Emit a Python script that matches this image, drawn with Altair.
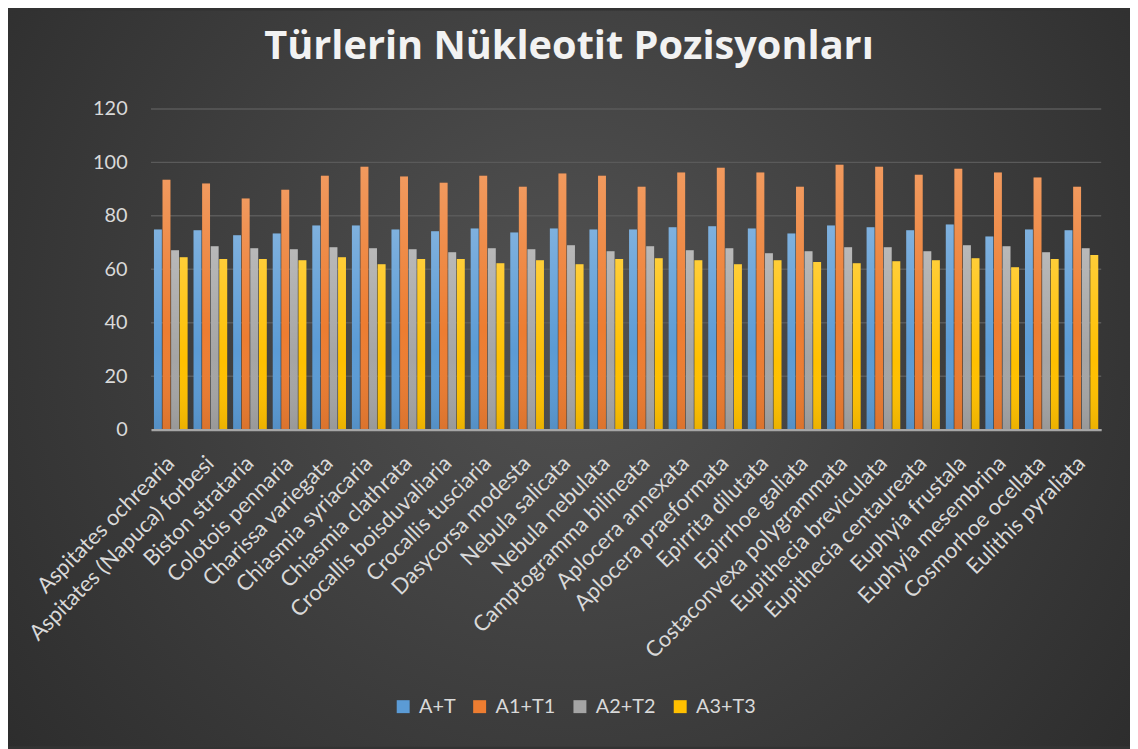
import altair as alt
import pandas as pd

categories = ["Aspitates ochrearia", "Aspitates (Napuca) forbesi", "Biston strataria",
              "Colotois pennaria", "Charissa variegata", "Chiasmia syriacaria",
              "Chiasmia clathrata", "Crocallis boisduvaliaria", "Crocallis tusciaria",
              "Dasycorsa modesta", "Nebula salicata", "Nebula nebulata",
              "Camptogramma bilineata", "Aplocera annexata", "Aplocera praeformata",
              "Epirrita dilutata", "Epirrhoe galiata", "Costaconvexa polygrammata",
              "Eupithecia breviculata", "Eupithecia centaureata", "Euphyia frustala",
              "Euphyia mesembrina", "Cosmorhoe ocellata", "Eulithis pyraliata"]

series = ["A+T", "A1+T1", "A2+T2", "A3+T3"]

at = [74.9, 74.6, 72.7, 73.4, 76.4, 76.4, 74.9, 74.2, 75.3, 73.8, 75.3, 74.9,
      74.9, 75.7, 76.1, 75.3, 73.4, 76.4, 75.7, 74.6, 76.8, 72.3, 74.9, 74.6]
a1t1 = [93.5, 92.1, 86.5, 89.8, 95.0, 98.4, 94.7, 92.4, 95.0, 90.9, 95.8, 95.0,
        90.9, 96.2, 98.0, 96.2, 90.9, 99.1, 98.4, 95.4, 97.6, 96.2, 94.3, 90.9]
a2t2 = [67.1, 68.6, 67.9, 67.5, 68.2, 67.9, 67.5, 66.4, 67.9, 67.5, 69.0, 66.7,
        68.6, 67.1, 67.9, 66.0, 66.7, 68.2, 68.2, 66.7, 69.0, 68.6, 66.4, 67.9]
a3t3 = [64.5, 63.8, 63.8, 63.4, 64.5, 61.9, 63.8, 63.8, 62.3, 63.4, 61.9, 63.8,
        64.1, 63.4, 61.9, 63.4, 62.7, 62.3, 63.0, 63.4, 64.1, 60.8, 63.8, 65.3]

y_ticks = [0, 20, 40, 60, 80, 100, 120]

colors = ["#5b9bd5", "#ed7d31", "#a5a5a5", "#ffc000"]

rows = []
for s, vals in zip(series, [at, a1t1, a2t2, a3t3]):
    for c, v in zip(categories, vals):
        rows.append({"tur": c, "seri": s, "deger": v})
df = pd.DataFrame(rows)

W, H = 957, 323
PL, PT, PR, PB = 144, 99, 29, 319

yscale = alt.Scale(domain=[0, 120], nice=False)

base = alt.Chart(df).encode(
    x=alt.X("tur:N", sort=categories,
            scale=alt.Scale(domain=categories, paddingInner=0.15, paddingOuter=0.075),
            axis=alt.Axis(title=None, labelAngle=-45, labelAlign="right", labelBaseline="middle",
                          labelPadding=30, tickSize=0, ticks=False,
                          domainColor="#a6a6a6", domainWidth=2.5,
                          labelColor="#d9d9d9", labelFont="Lato", labelFontSize=22,
                          labelLimit=500, grid=False, zindex=1)),
    xOffset=alt.XOffset("seri:N", scale=alt.Scale(domain=series, paddingInner=0.08)),
    y=alt.Y("deger:Q", scale=yscale,
            axis=alt.Axis(title=None, values=y_ticks, grid=False,
                          tickSize=0, ticks=False, domain=False, labelPadding=24,
                          labelColor="#d9d9d9", labelFont="Lato", labelFontSize=20,
                          zindex=1)),
)

bars = base.mark_bar().encode(
    color=alt.Color("seri:N", scale=alt.Scale(domain=series, range=colors),
                    legend=alt.Legend(title=None, orient="none", direction="horizontal",
                                      legendX=244, legendY=592,
                                      symbolType="square", symbolSize=170,
                                      symbolStrokeWidth=0,
                                      labelColor="#d9d9d9", labelFont="Lato",
                                      labelFontSize=20, labelOffset=6,
                                      columnPadding=14))
)

shine = base.mark_bar(fill={
    "gradient": "linear", "x1": 0, "y1": 0, "x2": 0, "y2": 1,
    "stops": [{"offset": 0, "color": "rgba(255,255,255,0.22)"},
              {"offset": 0.6, "color": "rgba(255,255,255,0.0)"},
              {"offset": 1, "color": "rgba(0,0,0,0.08)"}]})

grid = alt.Chart(pd.DataFrame({"t": y_ticks[1:]})).mark_rule(
    color="#5a5a5a", strokeWidth=1.5).encode(
    y=alt.Y("t:Q", scale=yscale), x=alt.value(0), x2=alt.value(W))

bg = alt.Chart(pd.DataFrame({"bg": [0]})).mark_rect(fill={
    "gradient": "radial", "x1": 0.5, "y1": 0.45, "r1": 0, "x2": 0.5, "y2": 0.45, "r2": 0.75,
    "stops": [{"offset": 0, "color": "#525252"},
              {"offset": 1, "color": "#262626"}]}).encode(
    x=alt.value(-PL), x2=alt.value(W + PR),
    y=alt.value(-PT), y2=alt.value(H + PB))

chart = alt.layer(bg, grid, bars, shine).properties(
    width=W, height=H,
    padding={"left": PL, "top": PT, "right": PR, "bottom": PB},
    autosize=alt.AutoSizeParams(type="none"),
    background="#333333",
    title=alt.TitleParams("Türlerin Nükleotit Pozisyonları", anchor="middle", frame="bounds",
                          font="Open Sans", fontSize=40, fontWeight="bold",
                          baseline="alphabetic",
                          color="#f2f2f2", offset=0, dy=89),
).configure_view(stroke=None)

chart.save("out.html", embed_options={"renderer": "svg", "actions": False})
